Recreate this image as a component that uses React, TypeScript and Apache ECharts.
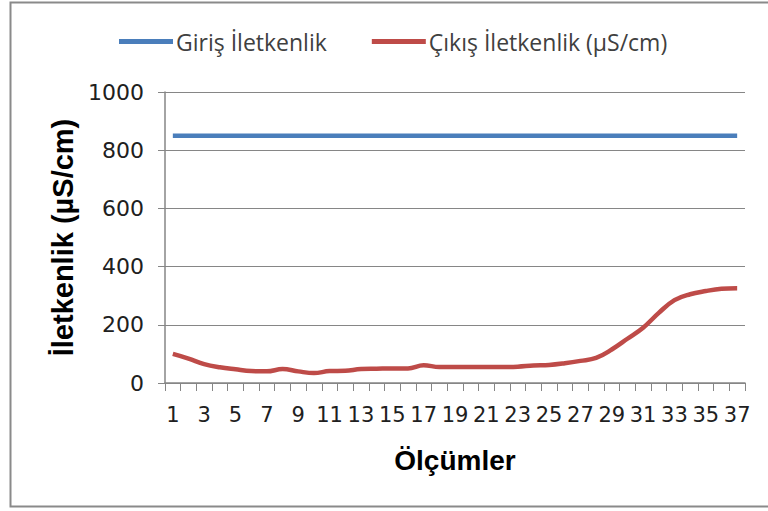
import React, { useEffect, useRef } from "react";
import * as echarts from "echarts";

const categories: string[] = Array.from({ length: 37 }, (_, i) => String(i + 1));
const girisValues: number[] = [
  850, 850, 850, 850, 850, 850, 850, 850, 850, 850, 850, 850, 850, 850, 850, 850, 850, 850, 850,
  850, 850, 850, 850, 850, 850, 850, 850, 850, 850, 850, 850, 850, 850, 850, 850, 850, 850,
];
const cikisValues: number[] = [
  100, 84, 65, 54, 47, 41, 40, 48, 40, 34, 41, 42, 48, 49, 50, 50, 61, 55, 55,
  55, 55, 55, 56, 60, 62, 68, 76, 86, 115, 152, 190, 241, 285, 305, 316, 324, 326,
];
const seriesNames = ["Giriş İletkenlik", "Çıkış İletkenlik (µS/cm)"];
const xTitle = "Ölçümler";
const yTitle = "İletkenlik (µS/cm)";

export default function App() {
  const ref = useRef<HTMLDivElement>(null);
  useEffect(() => {
    if (!ref.current) return;
    const chart = echarts.init(ref.current, null, { renderer: "svg" });
    const axisGray = "#868686";
    chart.setOption({
      animation: false,
      backgroundColor: "#ffffff",
      graphic: [
        {
          type: "rect",
          shape: { x: 10.5, y: 2.5, width: 800, height: 504 },
          style: { fill: "none", stroke: "#8a8a8a", lineWidth: 2 },
          silent: true,
        },
      ],
      legend: {
        top: 25,
        left: 114,
        itemWidth: 54,
        itemHeight: 5,
        itemGap: 45,
        icon: "rect",
        textStyle: { fontFamily: "Open Sans", fontSize: 23, color: "#404040", padding: [0, 0, 0, -2] },
        data: seriesNames,
      },
      grid: { left: 165, right: 23, top: 92, bottom: 128, containLabel: false },
      xAxis: {
        type: "category",
        data: categories,
        boundaryGap: true,
        name: xTitle,
        nameLocation: "middle",
        nameGap: 63,
        nameTextStyle: { fontFamily: "Liberation Sans", fontWeight: "bold", fontSize: 28, color: "#000" },
        axisLine: { lineStyle: { color: axisGray, width: 1.5 } },
        axisTick: { show: true, interval: 0, length: 8, lineStyle: { color: axisGray } },
        axisLabel: {
          interval: 1,
          margin: 21,
          fontFamily: "DejaVu Sans",
          fontSize: 21,
          color: "#202020",
        },
        splitLine: { show: false },
      },
      yAxis: {
        type: "value",
        min: 0,
        max: 1000,
        interval: 200,
        name: yTitle,
        nameLocation: "middle",
        nameGap: 83,
        nameTextStyle: { fontFamily: "Liberation Sans", fontWeight: "bold", fontSize: 29, color: "#000" },
        axisLine: { show: true, lineStyle: { color: axisGray, width: 1.5 } },
        axisTick: { show: true, length: 7, lineStyle: { color: axisGray } },
        axisLabel: {
          margin: 21,
          fontFamily: "DejaVu Sans",
          fontSize: 22,
          color: "#202020",
          formatter: (v: number) => String(v),
        },
        splitLine: { show: true, lineStyle: { color: axisGray, width: 1.2 } },
      },
      series: [
        {
          name: seriesNames[0],
          type: "line",
          data: girisValues,
          symbol: "none",
          lineStyle: { color: "#4a7ebb", width: 4.5 },
          itemStyle: { color: "#4a7ebb" },
        },
        {
          name: seriesNames[1],
          type: "line",
          data: cikisValues,
          symbol: "none",
          smooth: 0.4,
          lineStyle: { color: "#be4b48", width: 4.5 },
          itemStyle: { color: "#be4b48" },
        },
      ],
    });
    return () => chart.dispose();
  }, []);
  return (
    <div style={{ position: "absolute", left: 0, top: 0 }}>
      <div ref={ref} style={{ width: 768, height: 511 }} />
    </div>
  );
}
